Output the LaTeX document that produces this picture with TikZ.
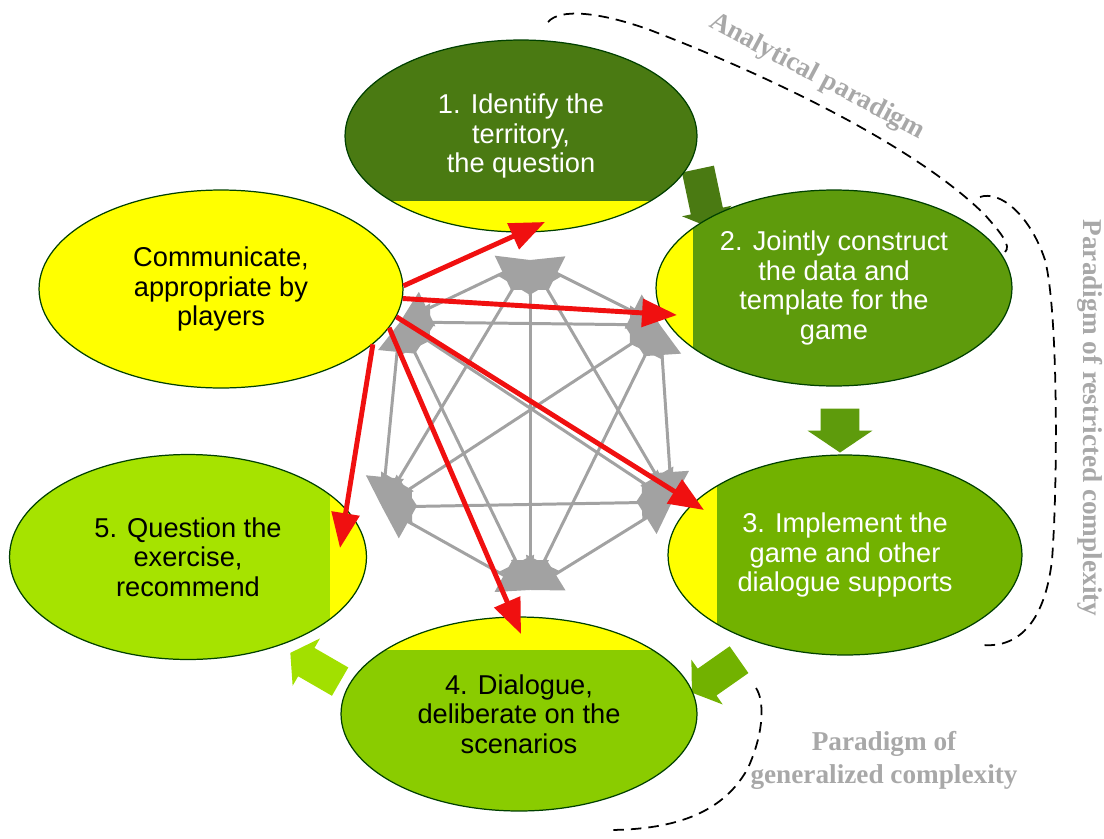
\documentclass[tikz,border=0pt]{standalone}
\usepackage{fontspec}
\setmainfont{Liberation Serif}
\setsansfont{Liberation Sans}
\usetikzlibrary{shapes.geometric,shapes.arrows,arrows.meta}
\definecolor{StepOne}{HTML}{4A7A12}
\definecolor{StepTwo}{HTML}{5E9B0C}
\definecolor{StepThree}{HTML}{72B200}
\definecolor{StepFour}{HTML}{8ACC00}
\definecolor{StepFive}{HTML}{A6E300}
\definecolor{ShareYellow}{HTML}{FFFF00}
\definecolor{ShareRed}{HTML}{F01010}
\definecolor{WebGray}{HTML}{A2A2A2}
\definecolor{LabelGray}{HTML}{A8A8A8}

\tikzset{
  stage/.style={ellipse, draw=black!75!green, line width=0.7pt, inner sep=0pt,
    align=center, font=\sffamily\fontsize{15.5}{16.8}\selectfont},
  stripS/.style={path picture={\fill[ShareYellow] (path picture bounding box.south west)
    rectangle ([yshift=#1]path picture bounding box.south east);}},
  stripN/.style={path picture={\fill[ShareYellow] (path picture bounding box.north west)
    rectangle ([yshift=-#1]path picture bounding box.north east);}},
  stripW/.style={path picture={\fill[ShareYellow] (path picture bounding box.south west)
    rectangle ([xshift=#1]path picture bounding box.north west);}},
  stripE/.style={path picture={\fill[ShareYellow] (path picture bounding box.south east)
    rectangle ([xshift=-#1]path picture bounding box.north east);}},
  web/.style={draw=WebGray, line width=1.7pt,
    {Triangle[length=0.6cm,width=0.75cm]}-{Triangle[length=0.6cm,width=0.75cm]}},
  share/.style={draw=ShareRed, line width=2.8pt, -{Triangle[length=0.7cm,width=0.55cm]}},
  cyclearrow/.style={single arrow, inner xsep=0pt, single arrow tip angle=112},
  paradigm/.style={line width=1pt, dash pattern=on 6pt off 4pt},
  paradigmlabel/.style={text=LabelGray, align=center,
    font=\bfseries\fontsize{15.5}{18.7}\selectfont}
}

\begin{document}
\begin{tikzpicture}[x=0.02cm, y=-0.02cm]
  \useasboundingbox (0,0) rectangle (1104,838);

  % sommets de l'hexagone
  \coordinate (v1) at (530,260);
  \coordinate (v2) at (660,325);
  \coordinate (v3) at (672,502);
  \coordinate (v4) at (530,590);
  \coordinate (v5) at (382,507);
  \coordinate (v6) at (400,322);

  \foreach \a [evaluate=\a as \s using int(\a+1)] in {1,...,5}
    \foreach \b in {\s,...,6}
      \draw[web] (v\a) -- (v\b);

  \node[cyclearrow, fill=StepOne, rotate=-78, inner ysep=0.32cm, single arrow head extend=0.18cm,
    minimum height=1.2cm] (a12) at (703,193) {};
  \node[cyclearrow, fill=StepTwo, rotate=-90, inner ysep=0.38cm, single arrow head extend=0.26cm,
    minimum height=0.88cm] (a23) at (840,424) {};
  \node[cyclearrow, fill=StepThree, rotate=-145, inner ysep=0.32cm, single arrow head extend=0.22cm,
    minimum height=1.15cm] (a34) at (720,673) {};
  \node[cyclearrow, fill=StepFive!85!StepFour, rotate=150, inner ysep=0.32cm, single arrow head extend=0.22cm,
    minimum height=1.15cm] (a45) at (320,670) {};

  \node[stage, fill=StepOne, text=white, minimum width=7.04cm, minimum height=3.84cm, stripS=0.62cm]
    (e1) at (521,136) {1. Identify the\\territory,\\the question};
  \node[stage, fill=StepTwo, text=white, minimum width=7.12cm, minimum height=3.92cm, stripW=0.74cm]
    (e2) at (834,288) {2. Jointly construct\\the data and\\template for the\\game};
  \node[stage, fill=StepThree, text=white, minimum width=7.08cm, minimum height=4.0cm, stripW=0.98cm]
    (e3) at (845,555) {3. Implement the\\game and other\\dialogue supports};
  \node[stage, fill=StepFour, minimum width=7.12cm, minimum height=3.88cm, stripN=0.66cm]
    (e4) at (519,714) {4. Dialogue,\\deliberate on the\\scenarios};
  \node[stage, fill=StepFive, minimum width=7.14cm, minimum height=4.1cm, stripE=0.72cm]
    (e5) at (188,557) {5. Question the\\exercise,\\recommend};
  \node[stage, fill=ShareYellow, minimum width=7.28cm, minimum height=3.96cm]
    (comm) at (221,289) {Communicate,\\appropriate by\\players};

  % pointes des fleches rouges
  \coordinate (t1) at (545,222);
  \coordinate (t2) at (677,315);
  \coordinate (t3) at (704,510);
  \coordinate (t4) at (521,634);
  \coordinate (t5) at (340,548);

  \draw[share] (comm.1) -- (t1);
  \draw[share] (comm.-3) -- (t2);
  \draw[share] (comm.-9) -- (t3);
  \draw[share] (comm.-13) -- (t4);
  \draw[share] (comm.-20) -- (t5);

  \draw[paradigm] (548,22) .. controls (560,8) and (600,12) .. (650,30)
    .. controls (780,80) and (920,150) .. (985,215)
    .. controls (1000,232) and (1012,246) .. (1005,252);
  \draw[paradigm] (980,197) .. controls (1000,190) and (1030,215) .. (1045,260)
    .. controls (1058,310) and (1058,480) .. (1052,560)
    .. controls (1045,620) and (1020,648) .. (983,645);
  \draw[paradigm] (756,688) .. controls (764,700) and (765,730) .. (748,768)
    .. controls (725,810) and (680,830) .. (607,830);

  \node[paradigmlabel, rotate=-28] (analytical) at (817,77) {Analytical paradigm};
  \node[paradigmlabel, rotate=-90] (restricted) at (1090,418) {Paradigm of restricted complexity};
  \node[paradigmlabel] (generalized) at (884,760) {Paradigm of\\generalized complexity};

\end{tikzpicture}
\end{document}
